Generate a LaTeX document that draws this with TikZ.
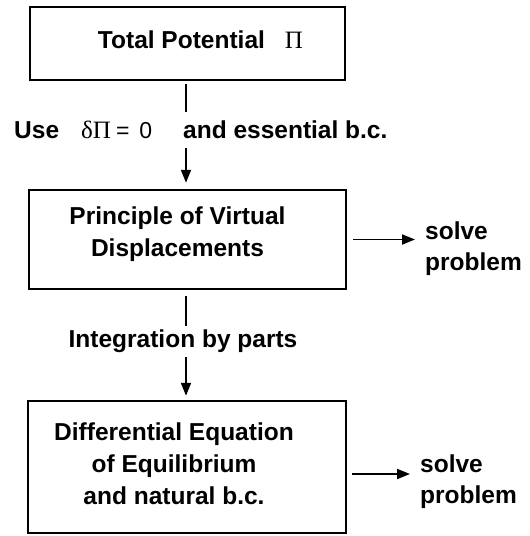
\documentclass[tikz,border=0pt]{standalone}
\usepackage{fontspec}
\setmainfont{Liberation Sans}
\newfontfamily\pisym{Liberation Serif}
\usetikzlibrary{arrows.meta}
\tikzset{
  box/.style={draw, line width=2.5pt, minimum width=317pt, inner sep=0pt},
  lbl/.style={font=\bfseries\fontsize{24.5}{32}\selectfont, align=center, inner sep=0pt},
  txt/.style={font=\bfseries\fontsize{24.5}{32}\selectfont, inner sep=0pt},
  sol/.style={font=\bfseries\fontsize{24.5}{31}\selectfont, align=left, inner sep=0pt, anchor=west},
  arr/.style={line width=1.9pt, -{Triangle[length=13pt,width=10pt]}},
  ln/.style={line width=1.9pt}
}
\begin{document}
\begin{tikzpicture}[x=1pt,y=-1pt]
\useasboundingbox (0,0) rectangle (530,536);
% boxes
\node[box, minimum width=315pt, minimum height=73pt,
  label={[lbl, xshift=13pt, yshift=4pt]center:{Total Potential\hspace{20pt}{\mdseries\pisym\fontsize{25}{26}\selectfont Π}}}] (b1) at (187.5,43.5) {};
\node[box, minimum height=99pt,
  label={[lbl, xshift=-10pt, yshift=5.5pt]center:{Principle of Virtual\\Displacements}}] (b2) at (187.5,239.5) {};
\node[box, minimum width=318pt, minimum height=132pt,
  label={[lbl, xshift=-13pt, yshift=3pt]center:{Differential Equation\\of Equilibrium\\and natural b.c.}}] (b3) at (187,467) {};
% label 1
\node[txt, anchor=west] (use) at (14,130) {Use};
\node[anchor=west, inner sep=0pt, font=\fontsize{25}{26}\selectfont] (eq) at (81,130) {{\pisym δΠ}\hspace{5pt}{\fontsize{23}{26}\selectfont=\hspace{10pt}0}};
\node[txt, anchor=west] (ess) at (183,130) {and essential b.c.};
\coordinate (c1a) at (186,112);
\coordinate (c1b) at (186,148);
\draw[ln, shorten <=3pt] (b1.south -| c1a) -- (c1a);
\draw[arr, shorten >=6pt] (c1b) -- (b2.north -| c1b);
% label 2
\node[txt] (ibp) at (183,341) {Integration by parts};
\coordinate (c2a) at (186,326);
\coordinate (c2b) at (186,357);
\draw[ln, shorten <=6pt] (b2.south -| c2a) -- (c2a);
\draw[arr, shorten >=4pt] (c2b) -- (b3.north -| c2b);
% solve problem
\node[sol] (s2) at (425,249) {solve\\problem};
\node[sol] (s3) at (420,482) {solve\\problem};
\draw[arr, shorten <=6pt, shorten >=10pt] (b2.east) -- (s2.west |- b2.east);
\draw[arr, shorten <=5pt, shorten >=10pt] ([yshift=-7pt]b3.east) -- (s3.west |- 0,474);
\end{tikzpicture}
\end{document}
